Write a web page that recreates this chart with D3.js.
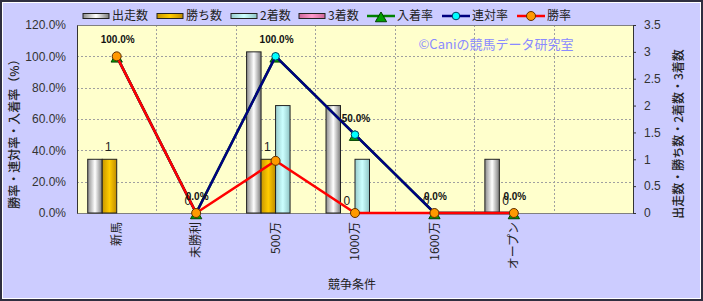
<!DOCTYPE html>
<html>
<head>
<meta charset="utf-8">
<script src="https://cdn.jsdelivr.net/npm/d3@7"></script>
<style>
  body { margin: 0; background: #fff; }
  text { font-family: "Liberation Sans", Arial, "Noto Sans CJK JP", sans-serif; }
  .jp { font-family: "Noto Sans CJK JP", sans-serif; }
</style>
</head>
<body>
<div id="container"></div>
<script>
// data
var categories = ['新馬', '未勝利', '500万', '1000万', '1600万', 'オープン', ''];
var starts  = [1, 0, 3, 2, 0, 1];
var wins    = [1, 0, 1, 0, 0, 0];
var seconds = [0, 0, 2, 1, 0, 0];
var thirds  = [0, 0, 0, 0, 0, 0];
var winRate      = [100, 0, 33.3, 0, 0, 0];
var rentaiRate   = [100, 0, 100, 50, 0, 0];
var nyuchakuRate = [100, 0, 100, 50, 0, 0];
var barNames  = ['出走数', '勝ち数', '2着数', '3着数'];
var lineNames = ['入着率', '連対率', '勝率'];
var leftTicks  = [0, 20, 40, 60, 80, 100, 120];
var rightTicks = [0, 0.5, 1, 1.5, 2, 2.5, 3, 3.5];

var width = 703, height = 301,
    margin = { left: 77, right: 70, top: 25, bottom: 88 };
var pw = width - margin.left - margin.right,
    ph = height - margin.top - margin.bottom;

var svg = d3.select('#container')
    .append('svg')
    .attr('width', width)
    .attr('height', height);

// gradients for the cylinder-like bars
var defs = svg.append('defs');
var grads = [
    { id: 'g0', stops: ['#8c8c8c', '#ffffff', '#7a7a7a'] },
    { id: 'g1', stops: ['#c89600', '#ffcc00', '#c08c00'] },
    { id: 'g2', stops: ['#99cccc', '#ccffff', '#8fc4c4'] },
    { id: 'g3', stops: ['#cc6699', '#ff99cc', '#cc6699'] }
];
grads.forEach(function(g) {
    var lg = defs.append('linearGradient').attr('id', g.id)
        .attr('x1', '0%').attr('x2', '100%').attr('y1', '0%').attr('y2', '0%');
    lg.append('stop').attr('offset', '0%').attr('stop-color', g.stops[0]);
    lg.append('stop').attr('offset', '50%').attr('stop-color', g.stops[1]);
    lg.append('stop').attr('offset', '100%').attr('stop-color', g.stops[2]);
});

// background + frame
svg.append('rect').attr('x', 1).attr('y', 1).attr('width', width - 2).attr('height', height - 2)
    .attr('fill', '#ccccff').attr('stroke', '#2f2f40').attr('stroke-width', 2);
svg.append('rect').attr('x', 2.5).attr('y', 2.5).attr('width', width - 5).attr('height', height - 5)
    .attr('fill', 'none').attr('stroke', '#ffffff').attr('stroke-width', 1);

var g = svg.append('g').attr('transform', 'translate(' + margin.left + ',' + margin.top + ')');

g.append('rect').attr('width', pw).attr('height', ph).attr('fill', '#ffffcc');

var x0 = d3.scaleBand().domain(categories).range([0, pw]).padding(0);
var x1 = d3.scaleBand().domain(barNames).range([0, x0.bandwidth()]).paddingOuter(0.74).paddingInner(0);
var yL = d3.scaleLinear().domain([0, 120]).range([ph, 0]);
var yR = d3.scaleLinear().domain([0, 3.5]).range([ph, 0]);

// grid
g.selectAll('.hgrid').data(leftTicks.slice(1, -1)).enter().append('line')
    .attr('x1', 0).attr('x2', pw)
    .attr('y1', function(d) { return Math.round(yL(d)) + 0.5; })
    .attr('y2', function(d) { return Math.round(yL(d)) + 0.5; })
    .attr('stroke', '#a0a0a0').attr('stroke-dasharray', '2,2');
g.selectAll('.vgrid').data(categories.slice(1)).enter().append('line')
    .attr('x1', function(d) { return Math.round(x0(d)) + 0.5; })
    .attr('x2', function(d) { return Math.round(x0(d)) + 0.5; })
    .attr('y1', 0).attr('y2', ph)
    .attr('stroke', '#a0a0a0').attr('stroke-dasharray', '2,2');

g.append('rect').attr('x', 0.5).attr('y', 0.5).attr('width', pw).attr('height', ph)
    .attr('fill', 'none').attr('stroke', '#808080');

// bars
var barSeries = [starts, wins, seconds, thirds];
barSeries.forEach(function(vals, si) {
    g.selectAll('.bar' + si)
        .data(vals.map(function(v, i) { return { c: categories[i], v: v }; })
            .filter(function(d) { return d.v > 0; }))
        .enter().append('rect')
        .attr('x', function(d) { return x0(d.c) + x1(barNames[si]); })
        .attr('y', function(d) { return yR(d.v); })
        .attr('width', x1.bandwidth())
        .attr('height', function(d) { return ph - yR(d.v); })
        .attr('fill', 'url(#g' + si + ')')
        .attr('stroke', '#222').attr('stroke-width', 1);
});

// win count labels
g.selectAll('.wlab').data(wins).enter().append('text')
    .attr('x', function(d, i) { return x0(categories[i]) + x1('勝ち数') + x1.bandwidth() / 2 - 1; })
    .attr('y', function(d) { return yR(d) - 8; })
    .attr('text-anchor', 'middle')
    .attr('font-size', 12)
    .attr('fill', '#222')
    .text(function(d) { return d; });

// lines
var cx = function(i) { return x0(categories[i]) + x0.bandwidth() / 2; };
var lineGen = d3.line().x(function(d, i) { return cx(i); }).y(function(d) { return yL(d); });
var lineStyles = [
    { vals: nyuchakuRate, color: '#008000', marker: 'tri' },
    { vals: rentaiRate, color: '#000080', marker: 'dia' },
    { vals: winRate, color: '#ff0000', marker: 'dot' }
];
function drawMarker(sel, type) {
    if (type === 'tri') {
        sel.append('path').attr('d', d3.symbol().type(d3.symbolTriangle).size(55)())
            .attr('transform', 'translate(0,2.5)')
            .attr('fill', '#00a000').attr('stroke', '#004000').attr('stroke-width', 1);
    } else if (type === 'dia') {
        sel.append('circle').attr('r', 3.8)
            .attr('fill', '#00ffff').attr('stroke', '#004060').attr('stroke-width', 1);
    } else {
        sel.append('circle').attr('r', 4.5)
            .attr('fill', '#ff9900').attr('stroke', '#603000').attr('stroke-width', 1);
    }
}
lineStyles.forEach(function(s) {
    g.append('path').datum(s.vals)
        .attr('d', lineGen)
        .attr('fill', 'none')
        .attr('stroke', s.color)
        .attr('stroke-width', 2.5);
    g.selectAll(null).data(s.vals).enter().append('g')
        .attr('transform', function(d, i) { return 'translate(' + cx(i) + ',' + yL(d) + ')'; })
        .each(function() { drawMarker(d3.select(this), s.marker); });
});

// percent labels
g.selectAll('.plab').data(rentaiRate).enter().append('text')
    .attr('x', function(d, i) { return cx(i) + 1; })
    .attr('y', function(d) { return yL(d) - 13; })
    .attr('text-anchor', 'middle')
    .attr('font-size', 10)
    .attr('font-weight', 'bold')
    .attr('fill', '#111')
    .text(function(d) { return d.toFixed(1) + '%'; });

// watermark
g.append('text').attr('class', 'jp')
    .attr('x', 419).attr('y', 24)
    .attr('text-anchor', 'middle')
    .attr('font-size', 13)
    .attr('fill', '#8a8aff')
    .text('©Caniの競馬データ研究室');

// left axis
var axL = g.append('g').call(d3.axisLeft(yL).tickValues(leftTicks).tickSize(0).tickPadding(11)
    .tickFormat(function(d) { return d.toFixed(1) + '%'; }));
axL.select('.domain').attr('stroke', '#333');
axL.selectAll('text').attr('font-size', 12).attr('fill', '#333')
    .attr('font-family', '"Liberation Sans", Arial, sans-serif');

// right axis
var axR = g.append('g').attr('transform', 'translate(' + pw + ',0)')
    .call(d3.axisRight(yR).tickValues(rightTicks).tickSize(3).tickPadding(8)
        .tickFormat(function(d) { return d; }));
axR.select('.domain').attr('stroke', '#333');
axR.selectAll('line').attr('stroke', '#333');
axR.selectAll('text').attr('font-size', 12).attr('fill', '#333')
    .attr('font-family', '"Liberation Sans", Arial, sans-serif');

// x labels
g.selectAll('.xlab').data(categories).enter().append('text')
    .attr('class', 'jp')
    .attr('transform', function(d) { return 'translate(' + (x0(d) + x0.bandwidth() / 2) + ',' + (ph + 9) + ') rotate(-90)'; })
    .attr('dy', '0.35em')
    .attr('text-anchor', 'end')
    .attr('font-size', 12)
    .attr('fill', '#222')
    .text(function(d) { return d; });

// axis titles
svg.append('text').attr('class', 'jp')
    .attr('transform', 'translate(15,131) rotate(-90)')
    .attr('dy', '0.35em').attr('text-anchor', 'middle')
    .attr('font-size', 12).attr('font-weight', 500).attr('fill', '#222')
    .text('勝率・連対率・入着率（%）');
svg.append('text').attr('class', 'jp')
    .attr('transform', 'translate(679,134) rotate(-90)')
    .attr('dy', '0.35em').attr('text-anchor', 'middle')
    .attr('font-size', 12).attr('font-weight', 500).attr('fill', '#222')
    .text('出走数・勝ち数・2着数・3着数');
svg.append('text').attr('class', 'jp')
    .attr('x', 352).attr('y', 289)
    .attr('text-anchor', 'middle')
    .attr('font-size', 12).attr('fill', '#222')
    .text('競争条件');

// legend
var lg = svg.append('g').attr('transform', 'translate(0,16)');
var barLegX = [83, 157, 231, 299];
barNames.forEach(function(n, i) {
    lg.append('rect').attr('x', barLegX[i]).attr('y', -2.5).attr('width', 26).attr('height', 5)
        .attr('fill', 'url(#g' + i + ')').attr('stroke', '#222').attr('stroke-width', 1);
    lg.append('text').attr('class', 'jp').attr('x', barLegX[i] + 29).attr('y', 0)
        .attr('dy', '0.35em').attr('font-size', 12).attr('fill', '#222').text(n);
});
var lineLegX = [367, 442, 517];
lineNames.forEach(function(n, i) {
    lg.append('line').attr('x1', lineLegX[i]).attr('x2', lineLegX[i] + 28)
        .attr('stroke', lineStyles[i].color).attr('stroke-width', 2.5);
    var m = lg.append('g').attr('transform', 'translate(' + (lineLegX[i] + 14) + ',0)');
    drawMarker(m, lineStyles[i].marker);
    lg.append('text').attr('class', 'jp').attr('x', lineLegX[i] + 30).attr('y', 0)
        .attr('dy', '0.35em').attr('font-size', 12).attr('fill', '#222').text(n);
});
</script>
</body>
</html>
